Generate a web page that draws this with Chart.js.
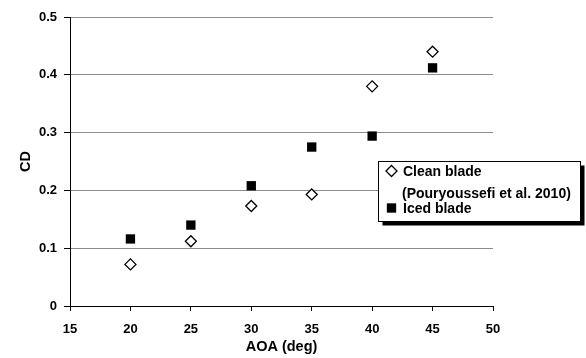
<!DOCTYPE html>
<html>
<head>
<meta charset="utf-8">
<script src="https://cdn.jsdelivr.net/npm/chart.js@4/dist/chart.umd.min.js"></script>
<style>
  html, body { margin: 0; padding: 0; background: #fff; }
  #wrap { width: 586px; height: 358px; }
</style>
</head>
<body>
<div id="wrap"><canvas id="c" width="586" height="358"></canvas></div>
<script>
const aoa = [20, 25, 30, 35, 40, 45];
const cleanBlade = [0.072, 0.112, 0.173, 0.193, 0.380, 0.440];
const icedBlade = [0.116, 0.140, 0.208, 0.275, 0.294, 0.412];
const cleanLabel = ['Clean blade', '(Pouryoussefi et al. 2010)'];
const icedLabel = 'Iced blade';
const xTitle = 'AOA (deg)';
const yTitle = 'CD';

const FONT = '"Liberation Sans", Arial, sans-serif';

const legendBox = {
  id: 'legendBox',
  afterDraw(chart) {
    const ctx = chart.ctx;
    const ds = chart.data.datasets;
    const x = 378.5, y = 161.5, w = 202, h = 60;
    ctx.save();
    ctx.fillStyle = '#000';
    ctx.fillRect(x + 4, y + 4, w, h);
    ctx.fillStyle = '#fff';
    ctx.fillRect(x, y, w, h);
    ctx.strokeStyle = '#000';
    ctx.lineWidth = 1;
    ctx.strokeRect(x, y, w, h);

    // markers, styled from the datasets
    ctx.lineWidth = ds[0].borderWidth;
    ctx.strokeStyle = ds[0].borderColor;
    ctx.fillStyle = ds[0].backgroundColor;
    Chart.helpers.drawPoint(ctx, {pointStyle: ds[0].pointStyle, radius: ds[0].pointRadius, borderWidth: ds[0].borderWidth}, 391.5, 171);
    ctx.lineWidth = ds[1].borderWidth;
    ctx.strokeStyle = ds[1].borderColor;
    ctx.fillStyle = ds[1].backgroundColor;
    Chart.helpers.drawPoint(ctx, {pointStyle: ds[1].pointStyle, radius: ds[1].pointRadius, borderWidth: ds[1].borderWidth}, 391.5, 208);

    ctx.font = 'bold 14px ' + FONT;
    ctx.fillStyle = '#000';
    ctx.textBaseline = 'middle';
    ctx.textAlign = 'left';
    const lbl0 = ds[0].label;
    ctx.fillText(lbl0[0], 403, 172.5);
    ctx.fillText(lbl0[1], 402, 194, 172);
    ctx.fillText(ds[1].label, 403, 209);
    ctx.restore();
  }
};

new Chart(document.getElementById('c'), {
  type: 'scatter',
  data: {
    datasets: [
      {
        label: cleanLabel,
        data: aoa.map((a, i) => ({x: a, y: cleanBlade[i]})),
        pointStyle: 'rectRot',
        pointRadius: 5.5,
        pointHoverRadius: 5.5,
        borderWidth: 1.3,
        borderColor: '#000',
        backgroundColor: '#fff'
      },
      {
        label: icedLabel,
        data: aoa.map((a, i) => ({x: a, y: icedBlade[i]})),
        pointStyle: 'rect',
        pointRadius: 6.6,
        pointHoverRadius: 6.6,
        borderWidth: 0,
        borderColor: '#000',
        backgroundColor: '#000'
      }
    ]
  },
  options: {
    responsive: false,
    animation: false,
    events: [],
    layout: { padding: { left: 0, top: 17, right: 93, bottom: 0 } },
    plugins: {
      legend: { display: false },
      tooltip: { enabled: false }
    },
    scales: {
      x: {
        type: 'linear',
        min: 15, max: 50,
        afterFit(s) { s.height = 52; },
        ticks: { stepSize: 5, color: '#000', padding: 11, font: { family: FONT, size: 13, weight: 'bold' } },
        grid: { drawOnChartArea: false, drawTicks: true, tickLength: 5, tickColor: '#000' },
        border: { color: '#000', width: 1 },
        title: { display: true, text: xTitle, color: '#000', padding: { top: 0, bottom: 2 }, font: { family: FONT, size: 14.5, weight: 'bold' } }
      },
      y: {
        type: 'linear',
        min: 0, max: 0.5,
        afterFit(s) { s.width = 70; },
        ticks: { stepSize: 0.1, color: '#000', padding: 7, font: { family: FONT, size: 13, weight: 'bold' } },
        grid: { color: '#8c8c8c', lineWidth: 1, drawTicks: true, tickLength: 6, tickColor: '#000' },
        border: { color: '#000', width: 1 },
        title: { display: true, text: yTitle, color: '#000', padding: { top: 17, bottom: 0 }, font: { family: FONT, size: 14.5, weight: 'bold' } }
      }
    }
  },
  plugins: [legendBox]
});
</script>
</body>
</html>
